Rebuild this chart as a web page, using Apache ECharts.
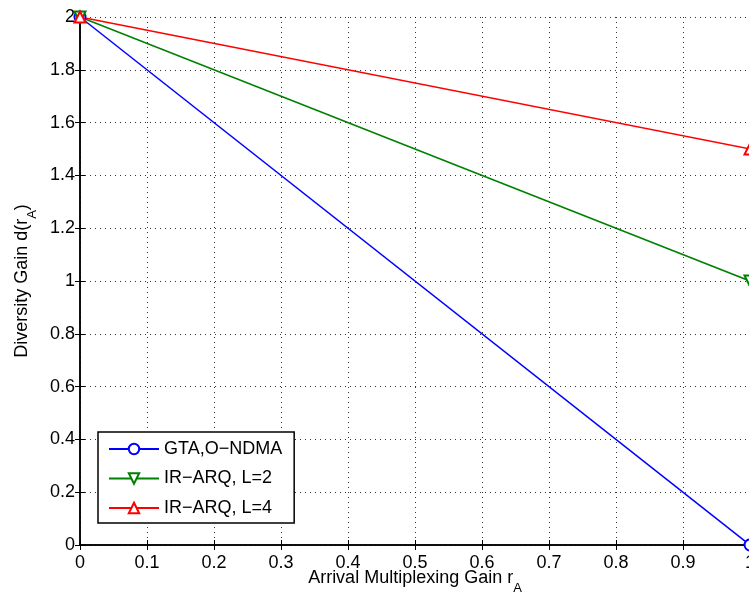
<!DOCTYPE html>
<html><head><meta charset="utf-8">
<script src="https://cdn.jsdelivr.net/npm/echarts@6/dist/echarts.min.js"></script>
<style>html,body{margin:0;padding:0;background:#fff}#c{width:749px;height:599px}</style>
</head><body><div id="c"></div>
<script>
const xTicks = [0,0.1,0.2,0.3,0.4,0.5,0.6,0.7,0.8,0.9,1];
const yTicks = [0,0.2,0.4,0.6,0.8,1,1.2,1.4,1.6,1.8,2];
const seriesNames = ['GTA,O\u2212NDMA','IR\u2212ARQ, L=2','IR\u2212ARQ, L=4'];
const seriesColors = ['#0000ff','#008000','#ff0000'];
const xVals = [0, 1];
const gtaVals = [2, 0];
const irL2Vals = [2, 1];
const irL4Vals = [2, 1.5];
const allVals = [gtaVals, irL2Vals, irL4Vals];
const symbols = ['emptyCircle','emptyTriangle','emptyTriangle'];
const rotates = [0, 180, 0];

const FONT = 'Liberation Sans, Arial, Helvetica, sans-serif';
const chart = echarts.init(document.getElementById('c'));
const fmt = v => String(Math.round(v*10)/10);
const split = {show:true, lineStyle:{color:'#000', type:[1,4], width:1, opacity:0.8}};
const subRich = {sub:{fontFamily:FONT, fontSize:13, color:'#000', padding:[20,0,0,0]}};
chart.setOption({
  animation:false,
  backgroundColor:'#fff',
  grid:{left:80, top:17, width:670, height:528, outerBoundsMode:'none', containLabel:false},
  legend:{
    left:98, top:432, orient:'vertical',
    padding:[8,12,6,10], itemGap:11.5, itemWidth:50, itemHeight:13,
    borderColor:'#000', borderWidth:1.5, backgroundColor:'#fff',
    textStyle:{fontFamily:FONT, fontSize:18, color:'#000'},
    data: seriesNames
  },
  xAxis:[{
    type:'value', min:0, max:1, interval:0.1,
    axisLine:{lineStyle:{color:'#000', width:1.5}},
    axisTick:{inside:true, length:5, lineStyle:{color:'#000'}},
    axisLabel:{formatter:fmt, fontFamily:FONT, fontSize:18, color:'#000', margin:9},
    splitLine:split,
    name:'Arrival Multiplexing Gain r{sub|A}', nameLocation:'middle', nameGap:17,
    nameMoveOverlap:false,
    nameTextStyle:{fontFamily:FONT, fontSize:18, color:'#000', rich:subRich}
  },{
    type:'value', min:0, max:1, interval:0.1, position:'top',
    axisLine:{lineStyle:{color:'#000', width:1.5}},
    axisTick:{inside:true, length:5, lineStyle:{color:'#000'}},
    axisLabel:{show:false}, splitLine:{show:false}
  }],
  yAxis:[{
    type:'value', min:0, max:2, interval:0.2,
    axisLine:{lineStyle:{color:'#000', width:1.5}},
    axisTick:{inside:true, length:5, lineStyle:{color:'#000'}},
    axisLabel:{formatter:fmt, fontFamily:FONT, fontSize:18, color:'#000', margin:5},
    splitLine:split,
    name:'Diversity Gain d(r{sub|A})', nameLocation:'middle', nameGap:41,
    nameMoveOverlap:false,
    nameTextStyle:{fontFamily:FONT, fontSize:18, color:'#000', rich:subRich}
  },{
    type:'value', min:0, max:2, interval:0.2, position:'right',
    axisLine:{lineStyle:{color:'#000', width:1.5}},
    axisTick:{inside:true, length:5, lineStyle:{color:'#000'}},
    axisLabel:{show:false}, splitLine:{show:false}
  }],
  series: seriesNames.map((n,i)=>({
    name:n, type:'line', xAxisIndex:0, yAxisIndex:0,
    data: xVals.map((x,k)=>[x, allVals[i][k]]),
    symbol: symbols[i], symbolRotate: rotates[i], symbolSize:11,
    color: seriesColors[i],
    lineStyle:{width:1.5, color:seriesColors[i]},
    itemStyle:{borderWidth:1.5},
    clip:false
  }))
});
</script></body></html>
